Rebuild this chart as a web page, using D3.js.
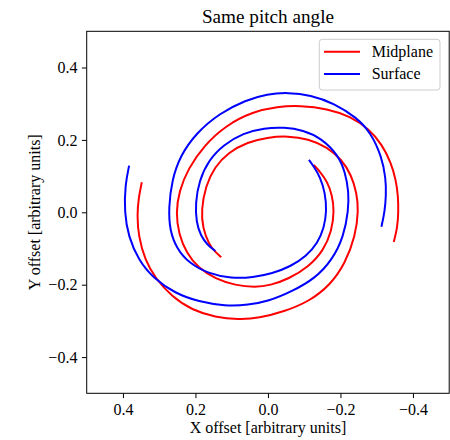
<!DOCTYPE html>
<html>
<head>
<meta charset="utf-8">
<script src="https://cdn.jsdelivr.net/npm/d3@7"></script>
<style>
  html, body { margin: 0; padding: 0; background: #fff; }
  svg { display: block; }
  text { font-family: "Liberation Serif", "Times New Roman", "DejaVu Serif", serif; fill: #000; }
</style>
</head>
<body>
<svg id="chart" width="450" height="440"></svg>
<script>
// ---- Data ----
const title = "Same pitch angle";
const xLabel = "X offset [arbitrary units]";
const yLabel = "Y offset [arbitrary units]";
const xTicks = [0.4, 0.2, 0.0, -0.2, -0.4];
const yTicks = [-0.4, -0.2, 0.0, 0.2, 0.4];
const seriesNames = ["Midplane", "Surface"];
const seriesColors = ["#ff0000", "#0000ff"];

// Midplane, arm A (starts outer left, winds inward)
const midArmA_x = [0.348, 0.357, 0.361, 0.357, 0.339, 0.311, 0.265, 0.210, 0.145, 0.081, 0.026, -0.048, -0.112, -0.172, -0.213, -0.241, -0.250, -0.245, -0.230, -0.204, -0.164, -0.111, -0.055, 0.002, 0.056, 0.110, 0.147, 0.172, 0.184, 0.180, 0.163, 0.147, 0.129];
const midArmA_y = [0.083, 0.039, -0.008, -0.067, -0.132, -0.182, -0.233, -0.270, -0.290, -0.296, -0.293, -0.273, -0.247, -0.201, -0.141, -0.067, 0.006, 0.053, 0.103, 0.145, 0.180, 0.203, 0.211, 0.207, 0.194, 0.165, 0.125, 0.073, 0.006, -0.043, -0.088, -0.108, -0.124];
// Midplane, arm B (starts outer right, winds inward)
const midArmB_x = [-0.347, -0.357, -0.360, -0.359, -0.353, -0.340, -0.315, -0.279, -0.227, -0.164, -0.089, -0.026, 0.041, 0.115, 0.176, 0.220, 0.245, 0.254, 0.246, 0.225, 0.192, 0.145, 0.090, 0.035, -0.006, -0.057, -0.112, -0.153, -0.176, -0.183, -0.177, -0.164, -0.144, -0.126];
const midArmB_y = [-0.082, -0.043, 0.001, 0.045, 0.089, 0.136, 0.187, 0.230, 0.265, 0.286, 0.295, 0.292, 0.278, 0.241, 0.185, 0.121, 0.059, -0.002, -0.060, -0.112, -0.154, -0.184, -0.202, -0.207, -0.202, -0.184, -0.151, -0.106, -0.052, 0.004, 0.048, 0.084, 0.112, 0.131];
// Surface, arm A (starts outer left, winds inward)
const surfArmA_x = [0.383, 0.394, 0.396, 0.385, 0.357, 0.316, 0.256, 0.191, 0.118, 0.054, -0.001, -0.066, -0.131, -0.177, -0.209, -0.222, -0.223, -0.213, -0.194, -0.147, -0.097, -0.045, 0.010, 0.068, 0.122, 0.163, 0.190, 0.200, 0.198, 0.185, 0.167, 0.145];
const surfArmA_y = [0.129, 0.075, 0.001, -0.067, -0.132, -0.182, -0.224, -0.247, -0.259, -0.256, -0.246, -0.219, -0.182, -0.132, -0.067, 0.006, 0.056, 0.111, 0.158, 0.205, 0.227, 0.235, 0.233, 0.219, 0.187, 0.145, 0.087, 0.026, -0.027, -0.066, -0.090, -0.107];
// Surface, arm B (starts outer right, winds inward)
const surfArmB_x = [-0.313, -0.322, -0.326, -0.325, -0.314, -0.284, -0.244, -0.183, -0.117, -0.056, 0.002, 0.061, 0.133, 0.198, 0.242, 0.265, 0.274, 0.271, 0.252, 0.217, 0.165, 0.101, 0.041, -0.012, -0.062, -0.106, -0.137, -0.155, -0.162, -0.158, -0.144, -0.126, -0.113];
const surfArmB_y = [-0.040, 0.001, 0.048, 0.095, 0.153, 0.220, 0.262, 0.301, 0.324, 0.331, 0.327, 0.310, 0.274, 0.219, 0.156, 0.089, 0.012, -0.049, -0.100, -0.141, -0.169, -0.183, -0.180, -0.169, -0.150, -0.121, -0.085, -0.043, 0.004, 0.053, 0.098, 0.127, 0.145];

// ---- Build arms ----
const zip = (xs, ys) => xs.map((x, i) => [x, ys[i]]);
const arms = [
  { series: 0, pts: zip(midArmA_x, midArmA_y) },
  { series: 0, pts: zip(midArmB_x, midArmB_y) },
  { series: 1, pts: zip(surfArmA_x, surfArmA_y) },
  { series: 1, pts: zip(surfArmB_x, surfArmB_y) }
];

// ---- Layout ----
const svg = d3.select("#chart");
const plot = { left: 86.7, top: 31.3, width: 362.5, height: 362 };

const x = d3.scaleLinear().domain([0.5, -0.5]).range([plot.left, plot.left + plot.width]);
const y = d3.scaleLinear().domain([-0.5, 0.5]).range([plot.top + plot.height, plot.top]);

svg.append("rect").attr("width", 450).attr("height", 440).attr("fill", "#fff");

svg.append("clipPath").attr("id", "clip")
  .append("rect").attr("x", plot.left).attr("y", plot.top)
  .attr("width", plot.width).attr("height", plot.height);

const fmt = d3.format(".1f");

const xAxis = svg.append("g")
  .attr("transform", `translate(0,${plot.top + plot.height})`)
  .call(d3.axisBottom(x).tickValues(xTicks).tickFormat(fmt).tickSize(4.8).tickPadding(5.5));
const yAxis = svg.append("g")
  .attr("transform", `translate(${plot.left},0)`)
  .call(d3.axisLeft(y).tickValues(yTicks).tickFormat(fmt).tickSize(4.8).tickPadding(4.5));

[xAxis, yAxis].forEach(g => {
  g.select(".domain").remove();
  g.selectAll(".tick line").attr("stroke", "#000").attr("stroke-width", 1);
  g.selectAll(".tick text").attr("font-size", 16).attr("fill", "#000")
    .style("font-family", '"Liberation Serif", "Times New Roman", serif');
});

// Spiral arms
const line = d3.line()
  .x(d => x(d[0]))
  .y(d => y(d[1]))
  .curve(d3.curveBasis);

svg.append("g").attr("clip-path", "url(#clip)")
  .selectAll("path.arm")
  .data(arms)
  .join("path")
  .attr("class", "arm")
  .attr("d", d => line(d.pts))
  .attr("fill", "none")
  .attr("stroke", d => seriesColors[d.series])
  .attr("stroke-width", 2)
  .attr("stroke-linecap", "butt");

// Frame
svg.append("rect")
  .attr("x", plot.left).attr("y", plot.top)
  .attr("width", plot.width).attr("height", plot.height)
  .attr("fill", "none").attr("stroke", "#000").attr("stroke-width", 1);

// Title
svg.append("text")
  .attr("x", plot.left + plot.width / 2).attr("y", 23.4)
  .attr("text-anchor", "middle").attr("font-size", 19.2)
  .text(title);

// Axis labels
svg.append("text")
  .attr("x", plot.left + plot.width / 2).attr("y", 432.5)
  .attr("text-anchor", "middle").attr("font-size", 16)
  .text(xLabel);
svg.append("text")
  .attr("transform", `translate(40,${plot.top + plot.height / 2}) rotate(-90)`)
  .attr("text-anchor", "middle").attr("font-size", 16)
  .text(yLabel);

// Legend
const legend = svg.append("g");
legend.append("rect")
  .attr("x", 319.3).attr("y", 39.3).attr("width", 120.7).attr("height", 50.7)
  .attr("rx", 3).attr("ry", 3)
  .attr("fill", "#fff").attr("fill-opacity", 0.8)
  .attr("stroke", "#cccccc").attr("stroke-width", 1);
const legendRows = [51.7, 74];
seriesNames.forEach((name, i) => {
  legend.append("line")
    .attr("x1", 324).attr("x2", 360)
    .attr("y1", legendRows[i]).attr("y2", legendRows[i])
    .attr("stroke", seriesColors[i]).attr("stroke-width", 2);
  legend.append("text")
    .attr("x", 371.7).attr("y", legendRows[i] + 5.3)
    .attr("font-size", 16)
    .text(name);
});
</script>
</body>
</html>
